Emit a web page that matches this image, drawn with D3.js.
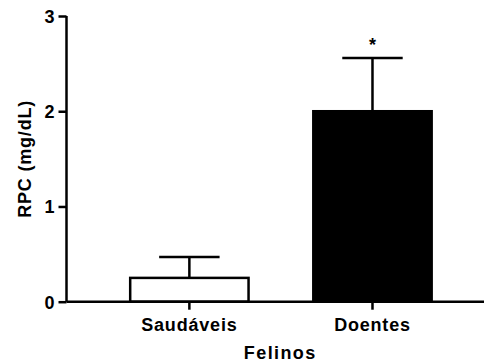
<!DOCTYPE html>
<html>
<head>
<meta charset="utf-8">
<script src="https://cdn.jsdelivr.net/npm/d3@7"></script>
<style>
  html, body { margin: 0; padding: 0; background: #fff; }
  svg { display: block; }
  text { font-family: "Liberation Sans", Arial, Helvetica, sans-serif; font-weight: bold; fill: #000; }
</style>
</head>
<body>
<svg id="chart" width="485" height="364"></svg>
<script>
// Protein/creatinine ratio (RPC) in healthy vs. diseased cats
const categories = ["Saudáveis", "Doentes"];
const means = [0.25, 2.0];
const errors = [0.22, 0.56];
const fills = ["#ffffff", "#000000"];
const yTicks = [0, 1, 2, 3];
const marks = ["", "*"];
const xTitle = "Felinos";
const yTitle = "RPC (mg/dL)";

const svg = d3.select("#chart");
const plotLeft = 66.5, plotRight = 484, plotTop = 16, plotBottom = 301.7;

const x = d3.scaleBand()
  .domain(categories)
  .range([plotLeft, plotRight])
  .paddingInner(0.34)
  .paddingOuter(0.31)
  .align(0.55);

const y = d3.scaleLinear().domain([0, 3]).range([plotBottom, plotTop]);

const sw = 2.5;

// Error bars (upper arm only)
const eb = svg.append("g");
categories.forEach((c, i) => {
  const cx = x(c) + x.bandwidth() / 2;
  const yTop = y(means[i] + errors[i]);
  eb.append("line")
    .attr("x1", cx).attr("x2", cx)
    .attr("y1", y(means[i])).attr("y2", yTop)
    .attr("stroke", "#000").attr("stroke-width", sw);
  eb.append("line")
    .attr("x1", cx - x.bandwidth() / 4).attr("x2", cx + x.bandwidth() / 4)
    .attr("y1", yTop).attr("y2", yTop)
    .attr("stroke", "#000").attr("stroke-width", sw);
});

// Bars
svg.append("g").selectAll("rect")
  .data(categories)
  .join("rect")
  .attr("x", c => x(c) + sw / 2)
  .attr("y", (c, i) => y(means[i]))
  .attr("width", x.bandwidth() - sw)
  .attr("height", (c, i) => plotBottom - y(means[i]))
  .attr("fill", (c, i) => fills[i])
  .attr("stroke", "#000")
  .attr("stroke-width", sw);

// Significance marks
svg.append("g").selectAll("text")
  .data(categories)
  .join("text")
  .attr("x", c => x(c) + x.bandwidth() / 2)
  .attr("y", (c, i) => y(means[i] + errors[i]) - 7)
  .attr("text-anchor", "middle")
  .attr("font-size", 18)
  .text((c, i) => marks[i]);

// Y axis
const yAxis = d3.axisLeft(y).tickValues(yTicks).tickFormat(d3.format("d")).tickSize(8).tickPadding(4);
const gy = svg.append("g").attr("transform", `translate(${plotLeft},0)`).call(yAxis);
gy.select(".domain").attr("d", `M0,${plotTop}V${plotBottom}`).attr("stroke-width", sw);
gy.selectAll(".tick line").attr("stroke-width", sw);
gy.selectAll(".tick text").attr("font-size", 18).attr("font-family", null).attr("font-weight", null).attr("dy", "0.36em");

// X axis
const xAxis = d3.axisBottom(x).tickSize(8).tickPadding(0).tickSizeOuter(0);
const gx = svg.append("g").attr("transform", `translate(0,${plotBottom})`).call(xAxis);
gx.select(".domain").attr("d", `M${plotLeft},0H${plotRight}`).attr("stroke-width", sw);
gx.selectAll(".tick line").attr("stroke-width", sw);
gx.selectAll(".tick text")
  .attr("font-size", 18).attr("font-family", null).attr("font-weight", null)
  .attr("dy", null).attr("y", 29.5)
  .style("letter-spacing", "0.8px");

// Axis titles
svg.append("text")
  .attr("x", (plotLeft + plotRight) / 2 + 5)
  .attr("y", 359)
  .attr("text-anchor", "middle")
  .attr("font-size", 18)
  .style("letter-spacing", "1.4px")
  .text(xTitle);

svg.append("text")
  .attr("transform", `translate(31,${(plotTop + plotBottom) / 2}) rotate(-90)`)
  .attr("text-anchor", "middle")
  .attr("font-size", 18)
  .style("letter-spacing", "0.8px")
  .text(yTitle);
</script>
</body>
</html>
